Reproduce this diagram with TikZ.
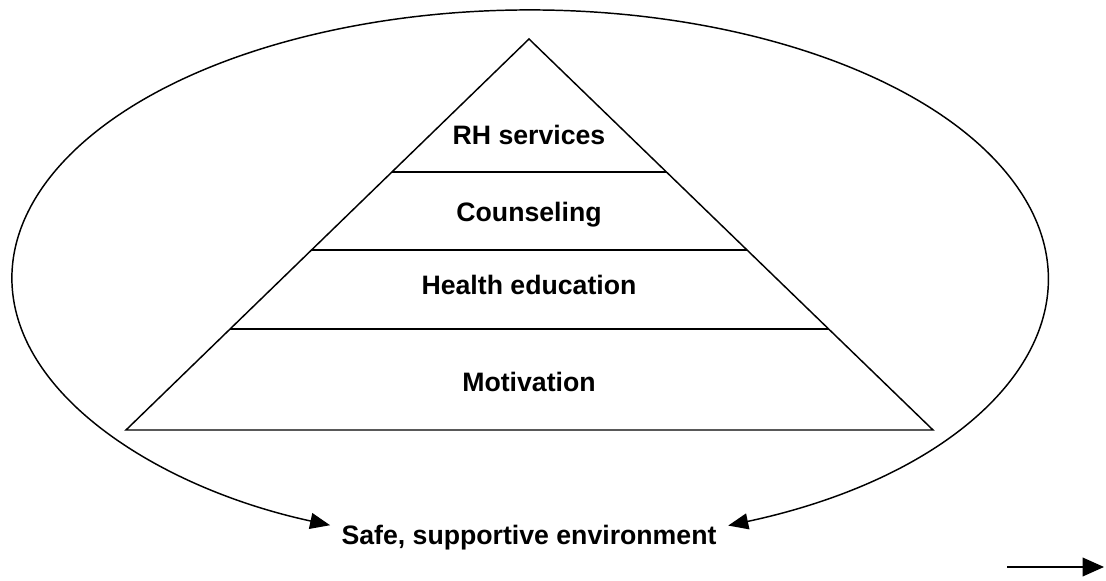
\documentclass[tikz,border=0pt]{standalone}
\usepackage{fontspec}
\setmainfont{Liberation Sans}
\usepackage{tikz}
\usetikzlibrary{calc,arrows.meta}
\tikzset{
  layer label/.style={anchor=base,font=\fontsize{20}{24}\selectfont\bfseries,inner sep=0pt},
  layer line/.style={line width=1.1pt},
  loop arrow/.style={line width=1.1pt,{Triangle[length=15pt,width=12pt]}-{Triangle[length=15pt,width=12pt]}},
  }

\begin{document}
\begin{tikzpicture}[x=0.75pt,y=0.75pt]
            \useasboundingbox (0,0) rectangle (1106,581);

            % Pyramid
            \coordinate (apex) at (529,542);
            \coordinate (base left) at (126,151);
            \coordinate (base right) at (933,151);
            \draw[layer line,line join=miter] (apex) -- (base right) -- (base left) -- cycle;

            % Layers
            \foreach \t/\n in {0.340/1,0.540/2,0.742/3} {
                \draw[layer line] ($(apex)!\t!(base left)$) -- ($(apex)!\t!(base right)$);
            }

            % Labels
            \node[layer label] (rh)   at (529,436) {RH services};
            \node[layer label] (coun) at (529,359) {Counseling};
            \node[layer label] (edu)  at (529,286) {Health education};
            \node[layer label] (mot)  at (529,189) {Motivation};
            \node[layer label] (env)  at (529,36)  {Safe, supportive environment};

            % Loop
            \coordinate (ring centre) at (530,303);
            \coordinate (ring right) at ($(ring centre)+(292.5:388.5pt and 201pt)$);
            \draw[loop arrow] (ring right) arc[start angle=292.5,end angle=607.3,x radius=388.5pt,y radius=201pt];

            % Arrow
            \coordinate (tail) at (1007,14);
            \coordinate (head) at (1104,14);
            \draw[layer line,-{Triangle[length=16pt,width=14pt]}] (tail) -- (head);
\end{tikzpicture}
\end{document}
